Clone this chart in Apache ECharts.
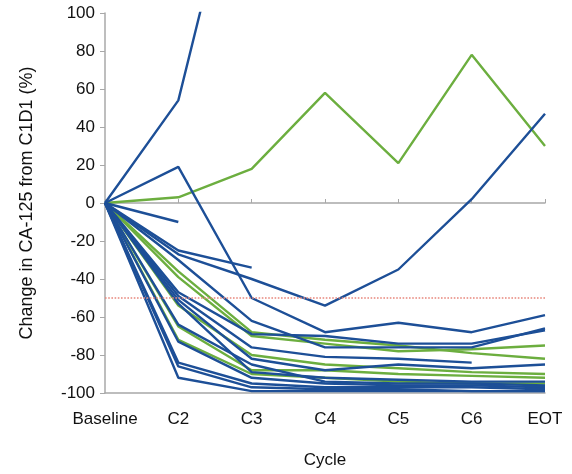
<!DOCTYPE html>
<html><head><meta charset="utf-8">
<script src="https://cdn.jsdelivr.net/npm/echarts@6/dist/echarts.min.js"></script>
<style>html,body{margin:0;padding:0;background:#fff}#c{width:572px;height:474px}</style>
</head><body><div id="c"></div>
<script>
const categories = ['Baseline','C2','C3','C4','C5','C6','EOT'];
const yTicks = {min:-100, max:100, interval:20};

// blue series (patients)
const b1 = [0, 54, 210, null, null, null, null];
const b2 = [0, 19, -50, -68, -63, -68, -59];
const b3 = [0, -10, null, null, null, null, null];
const b4 = [0, -27, -40, -54, -35, 2, 47];
const b5 = [0, -25, -34, null, null, null, null];
const b6 = [0, -30, -62, -76, -76, -76, -66];
const b7 = [0, -47, -69, -70, -74, -74, -67];
const b8 = [0, -49, -76, -81, -82, -84, null];
const b9 = [0, -51, -82, -88, -85, -87, -85];
const b10 = [0, -53, -89, -92, -93, -94, -94];
const b11 = [0, -64, -85, -94, -95, -95, -96];
const b12 = [0, -73, -92, -95, -96, -96, -97];
const b13 = [0, -84, -95, -97, -97, -97, -98];
const b14 = [0, -86, -97, -98, -98, -99, -99];
const b15 = [0, -92, -99, -99, -99, -99, -99];

// green series (patients)
const g1 = [0, 3, 18, 58, 21, 78, 30];
const g2 = [0, -36, -68, -72, -75, -79, -82];
const g3 = [0, -39, -70, -74, -78, -77, -75];
const g4 = [0, -54, -80, -85, -87, -89, -90];
const g5 = [0, -65, -88, -88, -90, -91, -92];
const g6 = [0, -72, -90, -92, -94, -95, -95];

const threshold = -50;

const blues = [b1,b2,b3,b4,b5,b6,b7,b8,b9,b10,b11,b12,b13,b14,b15];
const greens = [g1,g2,g3,g4,g5,g6];
const BLUE = '#1d4f97', GREEN = '#6cae3f';
const FONT = 'Liberation Sans, Arial, sans-serif';
const TXT = '#111111';

function mk(d, color){
  return {type:'line', data:d, symbol:'none', smooth:false, clip:true,
    lineStyle:{color:color, width:2.4}, itemStyle:{color:color}, silent:true, z:3};
}
const series = [];
greens.forEach(d=>series.push(mk(d, GREEN)));
blues.forEach(d=>series.push(mk(d, BLUE)));
series[0].markLine = {silent:true, symbol:'none', label:{show:false},
  lineStyle:{color:'#e8877c', type:'dotted', width:1.6}, data:[{yAxis:threshold}]};

const chart = echarts.init(document.getElementById('c'), null, {renderer:'canvas'});
chart.setOption({
  animation:false,
  backgroundColor:'#ffffff',
  grid:{left:105, right:27, top:13, bottom:81, containLabel:false},
  xAxis:[{
    type:'category', data:categories, boundaryGap:false,
    name:'Cycle', nameLocation:'middle', nameGap:59,
    nameTextStyle:{fontFamily:FONT, fontSize:17, color:TXT},
    axisLine:{onZero:false, lineStyle:{color:'#a8a8a8', width:1.5}},
    axisTick:{show:false},
    axisLabel:{fontFamily:FONT, fontSize:17, color:TXT, margin:18, interval:0, hideOverlap:false},
    splitLine:{show:false}
  },{
    type:'category', data:categories, boundaryGap:false, position:'bottom',
    axisLine:{onZero:true, onZeroAxisIndex:0, lineStyle:{color:'#a8a8a8', width:1.5}},
    axisTick:{show:true, inside:true, length:4, lineStyle:{color:'#a8a8a8'}},
    axisLabel:{show:false}, splitLine:{show:false}
  }],
  yAxis:{
    type:'value', min:yTicks.min, max:yTicks.max, interval:yTicks.interval,
    name:'Change in CA-125 from C1D1 (%)', nameLocation:'middle', nameGap:69,
    nameTextStyle:{fontFamily:FONT, fontSize:18, color:TXT},
    axisLine:{show:true, lineStyle:{color:'#a8a8a8', width:1.5}},
    axisTick:{show:true, length:5, lineStyle:{color:'#a8a8a8'}},
    axisLabel:{fontFamily:FONT, fontSize:17, color:TXT, margin:10},
    splitLine:{show:false}
  },
  series:series
});
</script></body></html>
